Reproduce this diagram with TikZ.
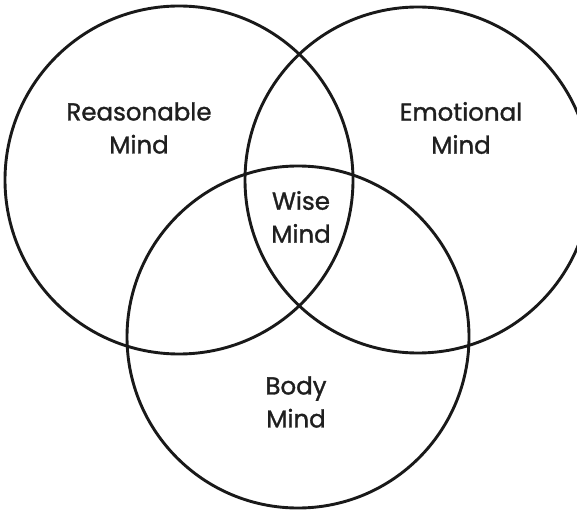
\documentclass[tikz,border=0pt]{standalone}
\usepackage{fontspec}
\setmainfont{Poppins}[FakeBold=1.2]
\newfontfamily\labfont{Poppins}[FakeBold=1.3]
\begin{document}
\begin{tikzpicture}[x=1pt,y=-1pt,
  ring/.style={draw=black!90,line width=2.9pt},
  lab/.style={align=center,font=\labfont\fontsize{24.5}{33}\selectfont,text=black!88,inner sep=0pt}]
\useasboundingbox (0,0) rectangle (577,510);
\begin{scope}
\clip (0,0) rectangle (577,510);
\node[ring,circle,minimum size=348pt,inner sep=0pt] (reason) at (179,180) {};
\node[ring,circle,minimum size=346pt,inner sep=0pt] (emo) at (418,180) {};
\node[ring,circle,minimum size=342pt,inner sep=0pt] (body) at (298,337) {};
\end{scope}
\node[lab] (lr) at (139,128) {Reasonable\\Mind};
\node[lab] (le) at (461,128) {Emotional\\Mind};
\node[lab] (lw) at (301,217) {Wise\\Mind};
\node[lab] (lb) at (296,402) {Body\\Mind};
\end{tikzpicture}
\end{document}
